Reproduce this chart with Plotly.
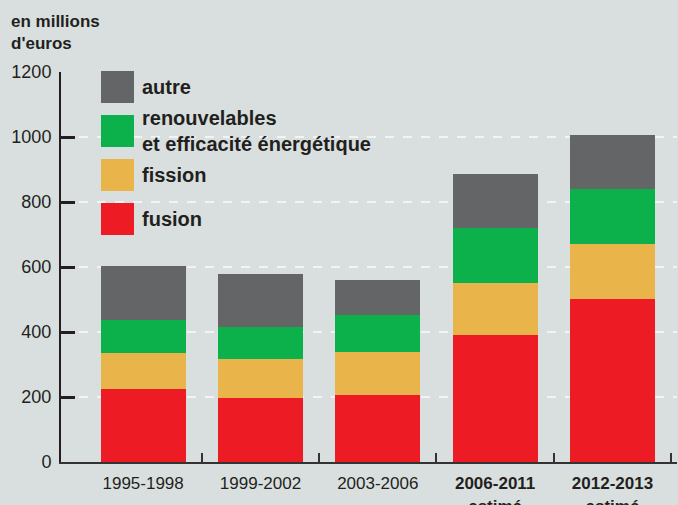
import plotly.graph_objects as go

categories = ["1995-1998", "1999-2002", "2003-2006", "2006-2011", "2012-2013"]
tick_labels = ["1995-1998", "1999-2002", "2003-2006",
               "<b>2006-2011</b><br><b>estimé</b>", "<b>2012-2013</b><br><b>estimé</b>"]
fusion = [225, 197, 206, 391, 502]
fission = [110, 120, 132, 160, 169]
renouvelables = [102, 98, 114, 169, 169]
autre = [166, 163, 108, 166, 166]

series_names = ["fusion", "fission", "renouvelables<br>et efficacité énergétique", "autre"]
colors = ["#ed1c24", "#e9b44a", "#0db14b", "#646567"]
y_ticks = [0, 200, 400, 600, 800, 1000, 1200]

FONT = "Liberation Sans, Arial, sans-serif"
TXT = "#231f20"
BG = "#d9dfdf"

W, H = 678, 505
L, R, T, B = 61, 1, 72, 43
PW, PH = W - L - R, H - T - B

def px_x(px):
    return (px - L) / PW

def px_y(py):
    return (H - B - py) / PH

xpos = list(range(len(categories)))
fig = go.Figure()
for name, vals, col in zip(series_names, [fusion, fission, renouvelables, autre], colors):
    fig.add_trace(go.Bar(x=xpos, y=vals, name=name, marker=dict(color=col, line=dict(width=0)),
                         width=0.725, showlegend=False))

# invisible trace to create second x axis for boundary ticks
fig.add_trace(go.Scatter(x=[0], y=[0], xaxis="x2", mode="markers",
                         marker=dict(opacity=0), showlegend=False, hoverinfo="skip"))

xr = [-0.70, 4.55]
fig.update_layout(
    width=W, height=H,
    margin=dict(l=L, r=R, t=T, b=B, autoexpand=False),
    paper_bgcolor=BG, plot_bgcolor=BG,
    barmode="stack",
    font=dict(family=FONT, color=TXT),
    xaxis=dict(range=xr, tickvals=xpos, ticktext=tick_labels, ticks="",
               showgrid=False, zeroline=False, showline=True, linecolor="#333333",
               linewidth=2, tickfont=dict(size=17, family=FONT, color=TXT),
               ticklabelstandoff=5, automargin=False),
    xaxis2=dict(range=xr, overlaying="x", side="bottom", tickvals=[0.5, 1.5, 2.5, 3.5, 4.5],
                ticks="inside", ticklen=9, tickwidth=2, tickcolor="#333333",
                showticklabels=False, showgrid=False, zeroline=False, showline=False,
                automargin=False),
    yaxis=dict(range=[0, 1200], tickvals=y_ticks, ticks="inside", ticklen=14, tickwidth=3,
               tickcolor=TXT, showline=True, linecolor=TXT, linewidth=2,
               showgrid=True, gridcolor="#f2f4f4", gridwidth=1.5, griddash="dash",
               zeroline=False, tickfont=dict(size=18, family=FONT, color=TXT),
               ticklabelstandoff=4, automargin=False),
    bargap=0.275,
)

# header label
fig.add_annotation(xref="paper", yref="paper", x=px_x(9), y=px_y(10), xanchor="left", yanchor="top",
                   text="<b>en millions<br>d'euros</b>", showarrow=False, align="left",
                   font=dict(size=17, family=FONT, color=TXT))

# custom legend
legend_order = [("autre", colors[3], 71), ("renouvelables<br>et efficacité énergétique", colors[2], 115),
                ("fission", colors[1], 159), ("fusion", colors[0], 203)]
for text, col, top in legend_order:
    fig.add_shape(type="rect", xref="paper", yref="paper", x0=px_x(101), x1=px_x(134),
                  y0=px_y(top + 32), y1=px_y(top), fillcolor=col, line=dict(width=0))
    fig.add_annotation(xref="paper", yref="paper", x=px_x(140), y=px_y(top + 16),
                       xanchor="left", yanchor="middle", text="<b>" + text + "</b>", showarrow=False,
                       align="left", font=dict(size=20, family=FONT, color=TXT))

fig.write_html("out.html", config={"displayModeBar": False})

# remove default page margin so the figure fills the window exactly
with open("out.html", "r", encoding="utf-8") as f:
    html = f.read()
html = html.replace("<head>", "<head><style>html,body{margin:0;padding:0;overflow:hidden}</style>", 1)
with open("out.html", "w", encoding="utf-8") as f:
    f.write(html)
